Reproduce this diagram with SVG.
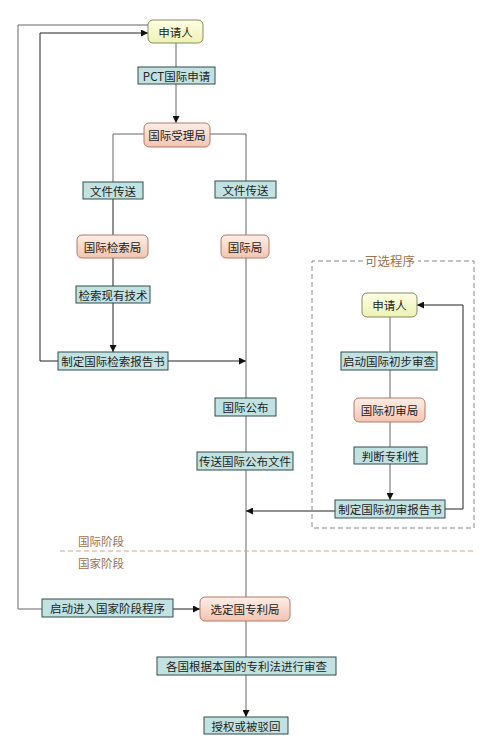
<svg xmlns="http://www.w3.org/2000/svg" width="500" height="749" viewBox="0 0 500 749">
<defs>
<linearGradient id="gy" x1="0" y1="0" x2="0" y2="1"><stop offset="0" stop-color="#fdfee6"/><stop offset="1" stop-color="#eef2b0"/></linearGradient>
<linearGradient id="gp" x1="0" y1="0" x2="0" y2="1"><stop offset="0" stop-color="#fdeee6"/><stop offset="1" stop-color="#f3c4b0"/></linearGradient>
<marker id="ar" viewBox="0 0 10 10" refX="10" refY="5" markerWidth="7" markerHeight="7" orient="auto" markerUnits="userSpaceOnUse"><path d="M0,0 L10,5 L0,10 z" fill="#111"/></marker>
<style>
.y{fill:url(#gy);stroke:#8a8a60;stroke-width:1}
.p{fill:url(#gp);stroke:#b07a68;stroke-width:1}
.l{fill:#c2e2e2;stroke:#2f4f4f;stroke-width:1}
text{font-family:"Noto Sans CJK SC","Liberation Sans",sans-serif;font-size:11.5px;fill:#222;text-anchor:middle;dominant-baseline:central}
.ln{fill:none;stroke:#666;stroke-width:1}
.lk{fill:none;stroke:#222;stroke-width:1}
.ph{fill:#a0704c;text-anchor:start}
</style>
</defs>
<g id="connectors">
<path class="ln" d="M18,25 H148"/>
<path class="lk" d="M40,33 H148" marker-end="url(#ar)"/>
<path class="ln" d="M18,25 V609 H42"/>
<path class="lk" d="M173,609 H200" marker-end="url(#ar)"/>
<path class="lk" d="M40,33 V361 H58"/>
<path class="lk" d="M168,361 H246" marker-end="url(#ar)"/>
<path class="ln" d="M176,43 V67"/>
<path class="ln" d="M176,84 V123" marker-end="url(#ar)"/>
<path class="ln" d="M144,134 H113 V182"/>
<path class="lk" d="M113,199 V352" marker-end="url(#ar)"/>
<path class="ln" d="M210,134 H246 V597"/>
<path class="lk" d="M335,511 H246" marker-end="url(#ar)"/>
<path class="ln" d="M390,317 V500" marker-end="url(#ar)"/>
<path class="lk" d="M445,509 H463 V305 H417" marker-end="url(#ar)"/>
<path class="ln" d="M246,621 V657"/>
<path class="ln" d="M246,675 V717" marker-end="url(#ar)"/>
<path d="M60,551 H475" fill="none" stroke="#c8a890" stroke-width="1" stroke-dasharray="5,3"/>
</g>
<g id="optional">
<path d="M363,261 H312 V528 H474 V261 H418" fill="none" stroke="#888" stroke-width="1" stroke-dasharray="5,3"/>
<text x="390" y="260" style="fill:#a0704c;font-size:12.5px">可选程序</text>
</g>
<g id="phase-labels">
<text class="ph" x="78" y="541">国际阶段</text>
<text class="ph" x="78" y="563">国家阶段</text>
</g>
<g id="applicant"><rect class="y" x="148" y="20" width="55" height="23" rx="5"/><text x="175.5" y="31.5">申请人</text></g>
<g id="pct"><rect class="l" x="138" y="67" width="77" height="17"/><text x="176.5" y="75.5">PCT国际申请</text></g>
<g id="ro"><rect class="p" x="144" y="123" width="66" height="24" rx="5"/><text x="177" y="135">国际受理局</text></g>
<g id="send1"><rect class="l" x="83" y="182" width="60" height="17"/><text x="113" y="190.5">文件传送</text></g>
<g id="send2"><rect class="l" x="215" y="181" width="61" height="17"/><text x="245.5" y="189.5">文件传送</text></g>
<g id="isa"><rect class="p" x="77" y="235" width="71" height="23" rx="5"/><text x="112.5" y="246.5">国际检索局</text></g>
<g id="ib"><rect class="p" x="221" y="235" width="48" height="23" rx="5"/><text x="245" y="246.5">国际局</text></g>
<g id="search"><rect class="l" x="76" y="286" width="74" height="17"/><text x="113" y="294.5">检索现有技术</text></g>
<g id="isr"><rect class="l" x="58" y="352" width="110" height="18"/><text x="113" y="361">制定国际检索报告书</text></g>
<g id="pub"><rect class="l" x="215" y="398" width="61" height="18"/><text x="245.5" y="407">国际公布</text></g>
<g id="sendpub"><rect class="l" x="197" y="452" width="96" height="18"/><text x="245" y="461">传送国际公布文件</text></g>
<g id="applicant2"><rect class="y" x="362" y="293" width="55" height="24" rx="5"/><text x="389.5" y="305">申请人</text></g>
<g id="ipe-start"><rect class="l" x="341" y="352" width="96" height="18"/><text x="389" y="361">启动国际初步审查</text></g>
<g id="ipea"><rect class="p" x="354" y="398" width="71" height="24" rx="5"/><text x="389.5" y="410">国际初审局</text></g>
<g id="judge"><rect class="l" x="354" y="447" width="73" height="17"/><text x="390.5" y="455.5">判断专利性</text></g>
<g id="iper"><rect class="l" x="335" y="500" width="110" height="18"/><text x="390" y="509">制定国际初审报告书</text></g>
<g id="national-start"><rect class="l" x="42" y="599" width="131" height="18"/><text x="107.5" y="608">启动进入国家阶段程序</text></g>
<g id="do"><rect class="p" x="200" y="597" width="90" height="24" rx="5"/><text x="245" y="609">选定国专利局</text></g>
<g id="exam"><rect class="l" x="157" y="657" width="179" height="18"/><text x="246.5" y="666">各国根据本国的专利法进行审查</text></g>
<g id="result"><rect class="l" x="204" y="717" width="84" height="17"/><text x="246" y="725.5">授权或被驳回</text></g>
</svg>
